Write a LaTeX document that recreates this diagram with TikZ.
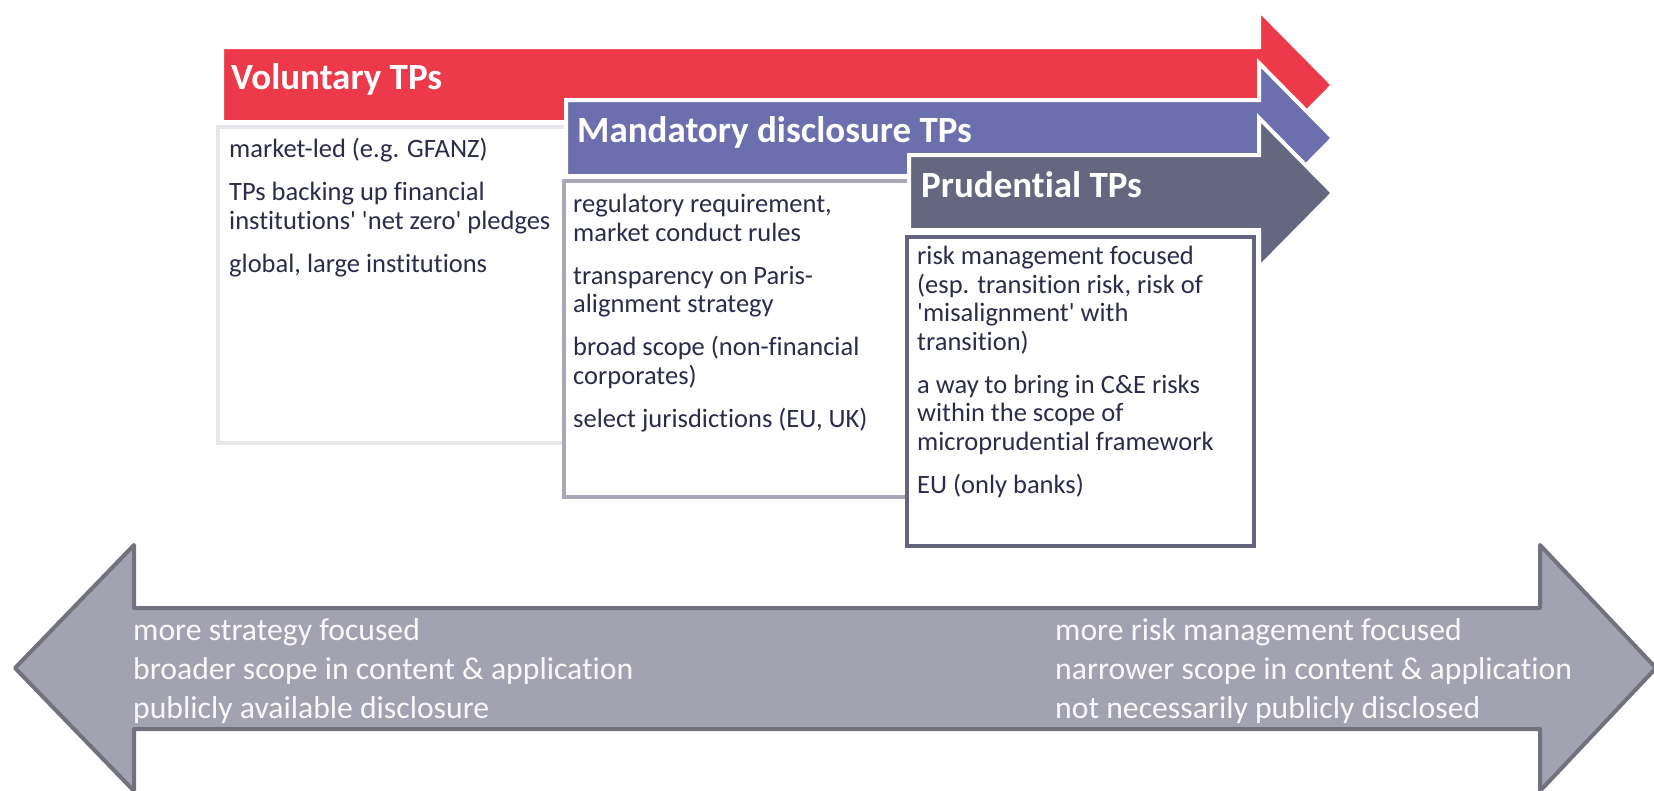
\documentclass[tikz,border=0pt]{standalone}
\usepackage{fontspec}
\setmainfont{Carlito}[Ligatures={TeX,NoCommon,NoContextual}]
\definecolor{tpRed}{RGB}{236,58,75}
\definecolor{tpBlue}{RGB}{107,111,173}
\definecolor{tpSlate}{RGB}{101,102,127}
\definecolor{tpNavy}{RGB}{43,44,74}
\definecolor{boxLight}{RGB}{230,230,236}
\definecolor{boxMid}{RGB}{168,168,186}
\definecolor{boxDark}{RGB}{100,100,126}
\definecolor{scaleFill}{RGB}{163,162,177}
\definecolor{scaleLine}{RGB}{114,114,126}
\newcommand{\q}{\textquotesingle}

\begin{document}
\begin{tikzpicture}[x=1pt, y=-1pt,
    tparrow/.style={draw=white, line width=4pt, line join=miter},
    tpbox/.style={fill=white, line width=4.5pt},
    tptitle/.style={anchor=base west, inner sep=0pt, text=white, font=\fontsize{37}{44}\selectfont\bfseries},
    tpbody/.style={anchor=north west, inner sep=0pt, align=left, text=tpNavy, font=\fontsize{26.5}{28.5}\selectfont},
    scaletext/.style={anchor=north west, inner sep=0pt, align=left, text=white!94!scaleFill, font=\fontsize{31.7}{39}\selectfont}]
  \useasboundingbox (0,0) rectangle (1654,790);

  % voluntary
  \path[tparrow, fill=tpRed] (222,47) -- (1259,47) -- (1259,10) -- (1333,85) -- (1259,160) -- (1259,122) -- (222,122) -- cycle;
  \node[tptitle] (volTitle) at (231,89) {Voluntary TPs};
  \draw[tpbox, draw=boxLight] (620,127) -- (218,127) -- (218,443) -- (620,443);
  \node[tpbody] (volText) at (229,138) {market-led (e.g. GFANZ)\\[14.5pt]
    TPs backing up financial\\ institutions\q{} \q net zero\q{} pledges\\[14.5pt]
    global, large institutions};

  % mandatory disclosure
  \path[tparrow, fill=tpBlue] (566,100) -- (1259,100) -- (1259,63) -- (1333,138) -- (1259,213) -- (1259,176) -- (566,176) -- cycle;
  \node[tptitle] (mandTitle) at (577,142) {Mandatory disclosure TPs};
  \draw[tpbox, draw=boxMid] (960,181) -- (564,181) -- (564,497) -- (960,497);
  \node[tpbody] (mandText) at (573,194) {regulatory requirement,\\ market conduct rules\\[14.5pt]
    transparency on Paris-\\ alignment strategy\\[14.5pt]
    broad scope (non-financial\\ corporates)\\[14.5pt]
    select jurisdictions (EU, UK)};

  % prudential
  \path[tparrow, fill=tpSlate] (909,155) -- (1259,155) -- (1259,118) -- (1333,193) -- (1259,268) -- (1259,230) -- (909,230) -- cycle;
  \node[tptitle] (prudTitle) at (921,197) {Prudential TPs};
  \draw[tpbox, draw=boxDark] (907,237) rectangle (1254,546);
  \node[tpbody] (prudText) at (917,246) {risk management focused\\ (esp. transition risk, risk of\\ \q misalignment\q{} with\\ transition)\\[14.5pt]
    a way to bring in C\&E risks\\ within the scope of\\ microprudential framework\\[14.5pt]
    EU (only banks)};

  % strategy <-> risk management scale
  \filldraw[fill=scaleFill, draw=scaleLine, line width=4pt, line join=round] (15,668) -- (134,545) -- (134,608) -- (1540,608) -- (1540,545) -- (1656,668) -- (1540,791) -- (1540,729) -- (134,729) -- (134,791) -- cycle;
  \node[scaletext] (stratText) at (133,618) {more strategy focused\\ broader scope in content \& application\\ publicly available disclosure};
  \node[scaletext] (riskText) at (1055,618) {more risk management focused\\ narrower scope in content \& application\\ not necessarily publicly disclosed};
\end{tikzpicture}
\end{document}
